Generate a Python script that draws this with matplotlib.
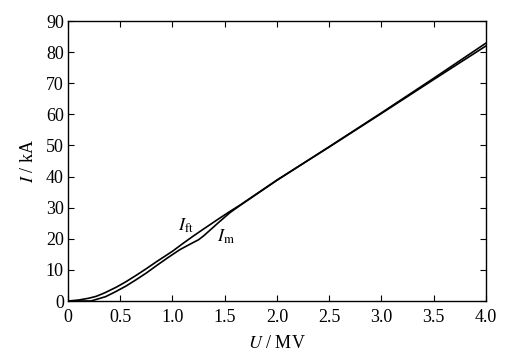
import matplotlib
matplotlib.use("Agg")
import matplotlib.pyplot as plt

plt.rcParams['font.family'] = ['Liberation Serif', 'DejaVu Serif']
plt.rcParams['mathtext.fontset'] = 'stix'

# Fitted curve I_ft
u_ft = [0, 0.1, 0.2, 0.27, 0.35, 0.46, 0.55, 0.65, 0.75, 0.85, 1.0, 1.1, 1.2,
        1.3, 1.45, 1.55, 1.65, 2.0, 2.5, 3.0, 3.5, 4.0]
i_ft = [0, 0.3, 0.9, 1.5, 2.6, 4.4, 6.1, 8.2, 10.4, 12.7, 16.0, 18.5, 20.9,
        23.2, 26.6, 28.8, 30.9, 38.9, 49.5, 60.3, 71.2, 82.0]

# Measured curve I_m
u_m = [0, 0.22, 0.28, 0.36, 0.45, 0.555, 0.65, 0.75, 0.84, 0.95, 1.07, 1.17,
       1.25, 1.3, 1.36, 1.45, 1.55, 1.65, 2.0, 2.5, 3.0, 3.5, 4.0]
i_m = [0, 0, 0.6, 1.4, 2.9, 4.8, 6.8, 9.0, 11.2, 13.8, 16.5, 18.3,
       19.7, 21.0, 22.8, 25.5, 28.4, 30.8, 38.8, 49.6, 60.5, 71.6, 82.9]

x_ticks = [0, 0.5, 1.0, 1.5, 2.0, 2.5, 3.0, 3.5, 4.0]
x_labels = ['0', '0.5', '1.0', '1.5', '2.0', '2.5', '3.0', '3.5', '4.0']
y_ticks = [0, 10, 20, 30, 40, 50, 60, 70, 80, 90]

fig = plt.figure(figsize=(5.25, 3.53), dpi=100)
ax = fig.add_axes([0.1295, 0.1473, 0.7962, 0.7932])

ax.plot(u_ft, i_ft, color='black', lw=1.2)
ax.plot(u_m, i_m, color='black', lw=1.2)

ax.set_xlim(0, 4.0)
ax.set_ylim(0, 90)
ax.set_xticks(x_ticks)
ax.set_xticklabels(x_labels)
ax.set_yticks(y_ticks)
ax.tick_params(direction='in', top=True, right=True, length=4, width=0.8,
               labelsize=13)
ax.tick_params(axis='x', pad=6)
ax.tick_params(axis='y', pad=3)
for s in ax.spines.values():
    s.set_linewidth(1.0)

ax.set_xlabel('$\\mathit{U}$ / MV', fontsize=13, labelpad=6)
ax.set_ylabel('$\\mathit{I}$ / kA', fontsize=13, labelpad=6)

ax.text(1.05, 22.5, '$\\mathit{I}_{\\mathrm{ft}}$', fontsize=13)
ax.text(1.43, 19.0, '$\\mathit{I}_{\\mathrm{m}}$', fontsize=13)

fig.savefig('out.png', dpi=100)
